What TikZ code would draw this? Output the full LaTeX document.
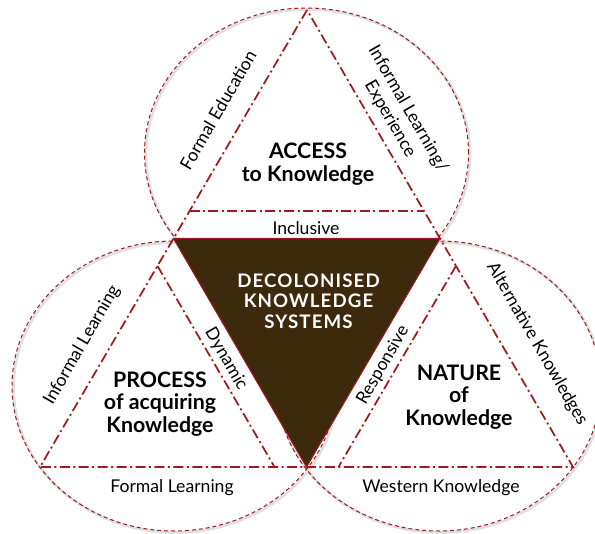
\documentclass[tikz,border=0pt]{standalone}
\usepackage{fontspec}
\setmainfont{Lato}
\usetikzlibrary{calc}
\definecolor{dred}{RGB}{160,25,30}
\definecolor{dbrown}{RGB}{61,41,11}
\begin{document}
\begin{tikzpicture}[x=0.75pt,y=0.75pt,
  venn/.style={draw=dred, line width=0.75pt, dash pattern=on 3pt off 2.2pt},
  vshadow/.style={draw=black!12, line width=2pt},
  dashdot/.style={draw=dred, line width=1.3pt, dash pattern=on 7.5pt off 2.6pt on 1.5pt off 2.6pt},
  lbl/.style={inner sep=0pt, font=\fontsize{13.2}{15.5}\selectfont},
  ttl/.style={inner sep=0pt, align=center, font=\fontsize{16}{17}\selectfont\bfseries},
  dks/.style={inner sep=0pt, align=center, text=white, font=\fontsize{14}{15.4}\selectfont\bfseries\addfontfeature{LetterSpace=6}}]
\useasboundingbox (0,0) rectangle (595,-534);
% outer triangle and medial triangle
\coordinate (P) at (307,-10);
\coordinate (L) at (40,-467);
\coordinate (R) at (573,-467);
\coordinate (A) at ($(P)!0.5!(L)$);
\coordinate (B) at ($(P)!0.5!(R)$);
\coordinate (C) at ($(L)!0.5!(R)$);
% ellipses
\foreach \c in {(308,-154.5),(175.5,-387.5),(440.5,-387.5)}{
  \draw[vshadow] \c ellipse [x radius=162, y radius=145];}
\draw[venn] (306.5,-153) ellipse [x radius=162, y radius=145];
\draw[venn] (174,-386) ellipse [x radius=162, y radius=145];
\draw[venn] (439,-386) ellipse [x radius=162, y radius=145];
% centre
\fill[dbrown] (A) -- (B) -- (C) -- cycle;
\draw[dred, line width=0.8pt, line join=round] (A) -- (B) -- (C) -- cycle;
% dash-dot lines
\draw[dashdot] (P) -- (L) -- (R) -- cycle;
\coordinate (t1) at ($(P)!0.44!(L)$);
\coordinate (t2) at ($(P)!0.44!(R)$);
\coordinate (l1) at ($(L)!0.44!(P)$);
\coordinate (l2) at ($(L)!0.44!(R)$);
\coordinate (r1) at ($(R)!0.44!(P)$);
\coordinate (r2) at ($(R)!0.44!(L)$);
\draw[dashdot] (t1) -- (t2);
\draw[dashdot] (l1) -- (l2);
\draw[dashdot] (r1) -- (r2);
% texts
\node[ttl] (acc) at (308,-164) {ACCESS\\to Knowledge};
\node[lbl, rotate=60] (fe) at (218,-110) {Formal Education};
\node[lbl, rotate=-60, align=center] (ile) at (399,-114) {Informal Learning/\\Experience};
\node[lbl] (inc) at (306,-228) {Inclusive};
\node[dks] (dk) at (308.5,-301) {DECOLONISED\\KNOWLEDGE\\SYSTEMS};
\node[ttl] (proc) at (160,-404) {PROCESS\\of acquiring\\Knowledge};
\node[lbl, rotate=60] (il) at (82,-345) {Informal Learning};
\node[lbl, rotate=-60] (dyn) at (226,-359) {Dynamic};
\node[lbl] (fl) at (172,-488) {Formal Learning};
\node[ttl] (nat) at (459,-397) {NATURE\\of\\Knowledge};
\node[lbl, rotate=60] (resp) at (383,-365) {Responsive};
\node[lbl, rotate=-60] (ak) at (537,-344) {Alternative Knowledges};
\node[lbl] (wk) at (441,-488) {Western Knowledge};
\end{tikzpicture}
\end{document}
